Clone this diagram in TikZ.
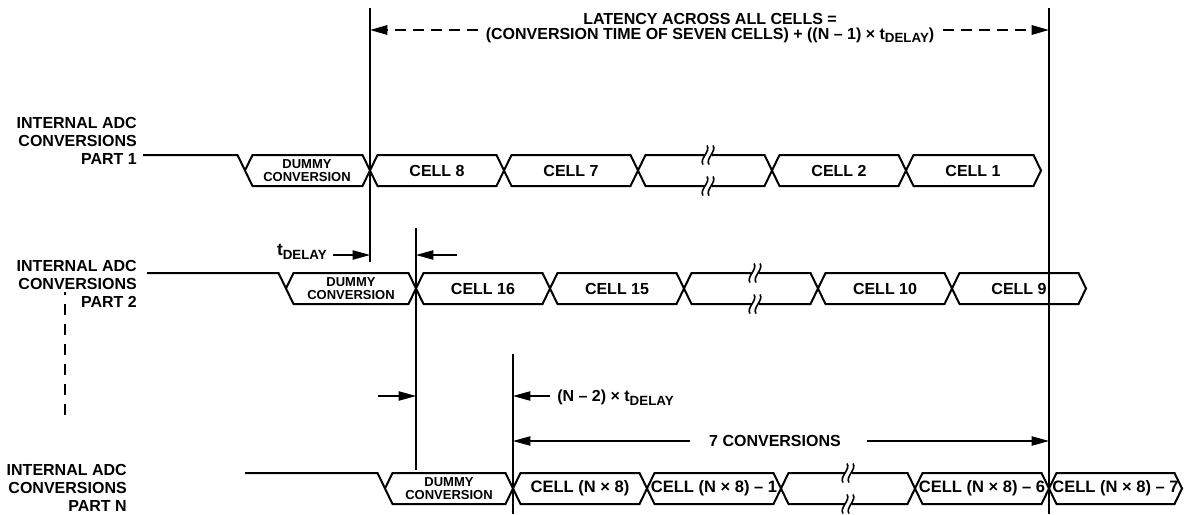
\documentclass[tikz,border=0pt]{standalone}
\usepackage{fontspec}
\setmainfont{Liberation Sans}
\usetikzlibrary{arrows.meta}
\newcommand\subd[1]{\raisebox{-0.45ex}{\fontsize{10}{10}\selectfont #1}}
% hexagon cell: x1, x2, ytop
\newcommand\hexc[3]{\draw[sig] (#1,#3+15.5) -- (#1+7.5,#3) -- (#2-7.5,#3) -- (#2,#3+15.5) -- (#2-7.5,#3+31) -- (#1+7.5,#3+31) -- cycle;}
% break mark: x, y
\newcommand\brkm[2]{%
  \fill[white] (#1-3.5,#2-3) rectangle (#1+3.5,#2+3);
  \draw[line width=1.2pt] (#1-1,#2-9.5) .. controls (#1+3,#2-4) and (#1-9,#2+4) .. (#1-5,#2+9.5);
  \draw[line width=1.2pt] (#1+5,#2-9.5) .. controls (#1+9,#2-4) and (#1-3,#2+4) .. (#1+1,#2+9.5);}
\begin{document}
\begin{tikzpicture}[x=0.75pt,y=-0.75pt,
  sig/.style={line width=1.5pt, line join=miter},
  vline/.style={line width=0.8pt},
  arr/.style={line width=0.8pt,-{Triangle[length=13pt,width=7pt]}},
  dasharr/.style={line width=1.6pt,dash pattern=on 8pt off 5.5pt,-{Triangle[length=13pt,width=7pt]}},
  lbl/.style={font=\fontsize{12}{13.5}\selectfont\bfseries, align=right, anchor=east, inner sep=0},
  celltxt/.style={font=\fontsize{12}{14}\selectfont\bfseries, inner sep=0},
  cellntxt/.style={font=\fontsize{12.4}{14}\selectfont\bfseries, inner sep=0},
  dum/.style={font=\fontsize{9.75}{9.75}\selectfont\bfseries, align=center, inner sep=0},
  toptxt/.style={font=\fontsize{12}{11.25}\selectfont\bfseries, align=center, inner sep=0},
  atxt/.style={font=\fontsize{12}{14}\selectfont\bfseries, inner sep=0},
]
\useasboundingbox (0,0) rectangle (1184,514);

% vertical markers
\coordinate (v1t) at (370,8);   \coordinate (v1b) at (370,262);
\coordinate (v2t) at (416,228); \coordinate (v2b) at (416,470);
\coordinate (v3t) at (513,354); \coordinate (v3b) at (513,514);
\coordinate (v4t) at (1049,8);  \coordinate (v4b) at (1049,514);
\draw[vline] (v1t) -- (v1b);
\draw[vline] (v2t) -- (v2b);
\draw[vline] (v3t) -- (v3b);
\draw[vline] (v4t) -- (v4b);

% top annotation
\node[toptxt] (lat) at (710,28) {LATENCY ACROSS ALL CELLS =\\(CONVERSION TIME OF SEVEN CELLS) + ((N -- 1) × t\subd{DELAY})};
\coordinate (la) at (478,30);
\coordinate (lb) at (943,30);
\draw[dasharr] (la) -- (v1t |- la);
\draw[dasharr] (lb) -- (v4t |- lb);

% row labels
\node[lbl] (r1) at (137,141) {INTERNAL ADC\\CONVERSIONS\\PART 1};
\node[lbl] (r2) at (137,284) {INTERNAL ADC\\CONVERSIONS\\PART 2};
\node[lbl] (rn) at (127,488) {INTERNAL ADC\\CONVERSIONS\\PART N};
\draw[line width=1pt,dash pattern=on 8.25pt off 6.75pt] (65,415) -- (65,292);

% ROW 1
\draw[sig] (143,155) -- (237.5,155) -- (245,170.5);
\hexc{245}{370}{155}
\hexc{370}{504}{155}
\hexc{504}{638}{155}
\hexc{638}{772}{155}
\hexc{772}{906}{155}
\hexc{906}{1041}{155}
\brkm{708}{155}
\brkm{708}{186}
\node[dum] (d1) at (307,170.5) {DUMMY\\CONVERSION};
\node[celltxt] (c8) at (437,170.5) {CELL 8};
\node[celltxt] (c7) at (571,170.5) {CELL 7};
\node[celltxt] (c2) at (839,170.5) {CELL 2};
\node[celltxt] (c1) at (973,170.5) {CELL 1};

% ROW 2
\draw[sig] (147,273) -- (278.5,273) -- (286,288.5);
\hexc{286}{416}{273}
\hexc{416}{550}{273}
\hexc{550}{684}{273}
\hexc{684}{818}{273}
\hexc{818}{952}{273}
\hexc{952}{1086}{273}
\brkm{755}{273}
\brkm{755}{304}
\node[dum] (d2) at (351,288.5) {DUMMY\\CONVERSION};
\node[celltxt] (c16) at (483,288.5) {CELL 16};
\node[celltxt] (c15) at (617,288.5) {CELL 15};
\node[celltxt] (c10) at (885,288.5) {CELL 10};
\node[celltxt] (c9) at (1019,288.5) {CELL 9};

% ROW N
\draw[sig] (245,473) -- (377.5,473) -- (385,488.5);
\hexc{385}{513}{473}
\hexc{513}{647}{473}
\hexc{647}{781}{473}
\hexc{781}{915}{473}
\hexc{915}{1049}{473}
\hexc{1049}{1182}{473}
\brkm{848}{473}
\brkm{848}{504}
\node[dum] (dn) at (449,488.5) {DUMMY\\CONVERSION};
\node[cellntxt] (n8) at (580,488.5) {CELL (N × 8)};
\node[cellntxt] (n81) at (714,488.5) {CELL (N × 8) -- 1};
\node[cellntxt] (n86) at (982,488.5) {CELL (N × 8) -- 6};
\node[cellntxt] (n87) at (1115.5,488.5) {CELL (N × 8) -- 7};

% t_DELAY arrows
\node[atxt,anchor=east] (td) at (327,252) {\fontsize{13}{14}\selectfont t\subd{DELAY}};
\coordinate (ta) at (333,255);
\coordinate (tb) at (457,255);
\draw[arr] (ta) -- (v1t |- ta);
\draw[arr] (tb) -- (v2t |- tb);

% (N-2) x t_DELAY arrows
\coordinate (ma) at (378,396);
\coordinate (mb) at (550,396);
\draw[arr] (ma) -- (v2t |- ma);
\draw[arr] (mb) -- (v3t |- mb);
\node[atxt,anchor=west] (nd) at (557,398) {(N -- 2) × t\subd{DELAY}};

% 7 conversions
\node[atxt] (sc) at (775,441) {7 CONVERSIONS};
\coordinate (sa) at (690,441);
\coordinate (sb) at (867,441);
\draw[arr] (sa) -- (v3t |- sa);
\draw[arr] (sb) -- (v4t |- sb);
\end{tikzpicture}
\end{document}
